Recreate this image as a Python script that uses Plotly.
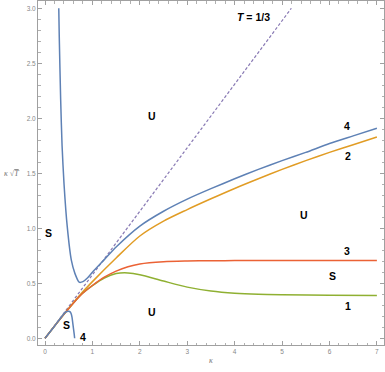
import plotly.graph_objects as go

# Curve 1 (green)
k1 = [0, 0.25, 0.5, 0.75, 1.0, 1.25, 1.5, 1.75, 2.0, 2.5, 3.0, 3.5, 4.0, 4.5, 5.0, 6.0, 7.0]
v1 = [0, 0.138, 0.27, 0.392, 0.478, 0.548, 0.588, 0.594, 0.578, 0.52, 0.465, 0.43, 0.41, 0.4, 0.396, 0.392, 0.39]
# Curve 2 (orange)
k2 = [0, 0.25, 0.5, 0.75, 1.0, 1.5, 2.0, 2.5, 3.0, 3.5, 4.0, 4.5, 5.0, 5.5, 6.0, 6.5, 7.0]
v2 = [0, 0.138, 0.272, 0.4, 0.515, 0.73, 0.93, 1.065, 1.17, 1.268, 1.362, 1.45, 1.535, 1.615, 1.69, 1.76, 1.83]
# Curve 3 (red)
k3 = [0, 0.25, 0.5, 0.75, 1.0, 1.25, 1.5, 1.75, 2.0, 2.5, 3.0, 3.5, 4.0, 5.0, 6.0, 7.0]
v3 = [0, 0.138, 0.27, 0.392, 0.48, 0.555, 0.61, 0.65, 0.675, 0.695, 0.702, 0.705, 0.706, 0.707, 0.708, 0.708]
# Curve 4 (blue) upper branch
k4u = [0.29, 0.30, 0.33, 0.36, 0.40, 0.47, 0.555, 0.63, 0.72, 0.8, 0.9, 1.0, 1.25, 1.5, 2.0, 2.5, 3.0, 3.5, 4.0, 4.5, 5.0, 5.5, 6.0, 6.5, 7.0]
v4u = [3.0, 2.75, 2.17, 1.75, 1.41, 1.01, 0.71, 0.59, 0.51, 0.515, 0.55, 0.6, 0.715, 0.83, 1.02, 1.155, 1.265, 1.36, 1.45, 1.535, 1.615, 1.69, 1.77, 1.84, 1.91]
# Curve 4 (blue) lower branch
k4l = [0, 0.2, 0.42, 0.46, 0.5, 0.53, 0.55, 0.57, 0.585, 0.6, 0.615, 0.625]
v4l = [0, 0.11, 0.233, 0.243, 0.246, 0.24, 0.225, 0.19, 0.14, 0.09, 0.04, 0.0]
# T = 1/3 line
kT = [0, 5.196]
vT = [0, 3.0]

fig = go.Figure()
lw = 1.5
fig.add_trace(go.Scatter(x=kT, y=vT, mode="lines", line=dict(color="#8778B3", width=1.2, dash="3px,2px")))
fig.add_trace(go.Scatter(x=k2, y=v2, mode="lines", line=dict(color="#E19C24", width=lw, shape="spline", smoothing=0.8)))
fig.add_trace(go.Scatter(x=k1, y=v1, mode="lines", line=dict(color="#8FB032", width=lw, shape="spline", smoothing=0.8)))
fig.add_trace(go.Scatter(x=k3, y=v3, mode="lines", line=dict(color="#EB6235", width=lw, shape="spline", smoothing=0.8)))
fig.add_trace(go.Scatter(x=k4u, y=v4u, mode="lines", line=dict(color="#5E81B5", width=lw, shape="spline", smoothing=0.6)))
fig.add_trace(go.Scatter(x=k4l, y=v4l, mode="lines", line=dict(color="#5E81B5", width=lw, shape="spline", smoothing=0.6)))

lab_font = dict(family="Liberation Sans, Arial, sans-serif", size=10.5, color="black")
labels = [
    ("<b>U</b>", 2.25, 2.02), ("<b>S</b>", 0.08, 0.96), ("<b>S</b>", 0.45, 0.12),
    ("<b>4</b>", 0.8, 0.015), ("<b>U</b>", 2.25, 0.24), ("<b>U</b>", 5.47, 1.12),
    ("<b>S</b>", 6.07, 0.57), ("<b>3</b>", 6.38, 0.79), ("<b>4</b>", 6.37, 1.93),
    ("<b>2</b>", 6.39, 1.66), ("<b>1</b>", 6.4, 0.295),
]
for t, x, y in labels:
    fig.add_annotation(x=x, y=y, text=t, showarrow=False, font=lab_font)
fig.add_annotation(x=4.4, y=2.92, text="<b><i>T</i> = 1/3</b>", showarrow=False, font=lab_font)

axis_common = dict(
    showgrid=False, zeroline=False, showline=True, linecolor="#a0a0a0", linewidth=1,
    mirror="allticks", ticks="inside", ticklen=4, tickcolor="#a0a0a0", tickwidth=1,
    automargin=False,
    tickfont=dict(family="Liberation Sans, Arial, sans-serif", size=6.5, color="#888888"),
)
fig.update_xaxes(range=[-0.148, 7.15], tickvals=[0, 1, 2, 3, 4, 5, 6, 7],
                 minor=dict(ticks="inside", ticklen=2.5, tickcolor="#b0b0b0", dtick=0.2, tick0=0),
                 **axis_common)
fig.update_yaxes(range=[-0.061, 3.066], tickvals=[0, 0.5, 1, 1.5, 2, 2.5, 3],
                 ticktext=["0.0", "0.5", "1.0", "1.5", "2.0", "2.5", "3.0"],
                 minor=dict(ticks="inside", ticklen=2.5, tickcolor="#b0b0b0", dtick=0.1, tick0=0),
                 **axis_common)

fig.add_annotation(xref="paper", yref="paper", x=(211 - 38) / 346, y=-(367 - 345) / 344,
                   text="<i>κ</i>", showarrow=False,
                   font=dict(family="Liberation Serif, serif", size=8, color="#777777"))
fig.add_annotation(xref="x domain", yref="y", x=-0.05, y=1.5, xanchor="right",
                   text="<i>κ</i> √<span style='text-decoration:overline'><i>T</i></span>", showarrow=False,
                   font=dict(family="Liberation Serif, serif", size=8, color="#777777"))

fig.update_layout(width=385, height=372, margin=dict(l=38, r=1, t=1, b=27),
                  plot_bgcolor="white", paper_bgcolor="white", showlegend=False)
fig.write_html("out.html", config={"displayModeBar": False},
               post_script="document.body.style.margin='0';document.body.style.padding='0';document.body.style.overflow='hidden';")
